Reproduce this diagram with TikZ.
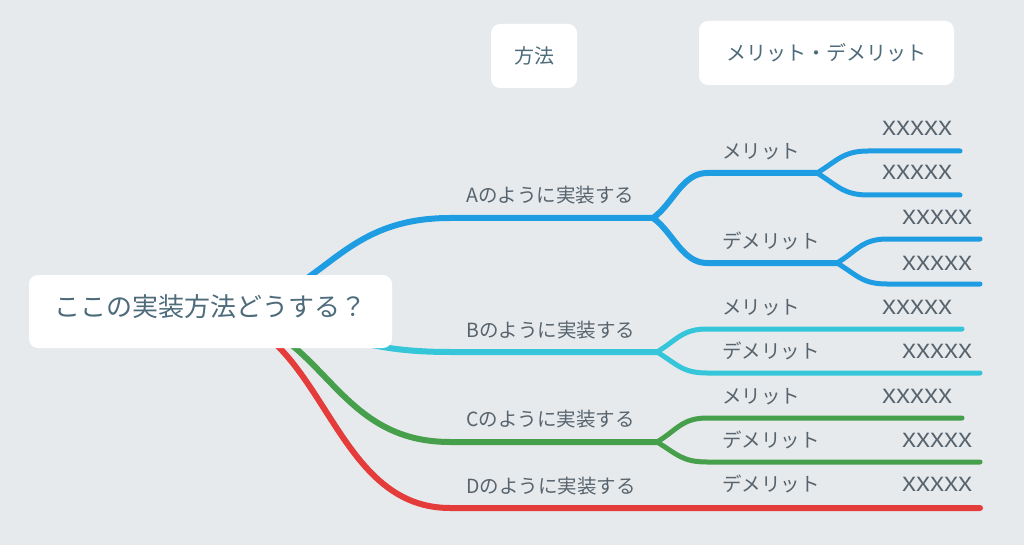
\documentclass[tikz,border=0pt]{standalone}
\usepackage{fontspec}
\setmainfont{Noto Sans CJK JP}
\newfontfamily\wideX[FakeStretch=1.26]{Noto Sans CJK JP}
\usetikzlibrary{positioning}

\definecolor{bgc}{HTML}{E7EAED}
\definecolor{blueA}{HTML}{1E9DE3}
\definecolor{cyanB}{HTML}{35C6DA}
\definecolor{greenC}{HTML}{46A04B}
\definecolor{redD}{HTML}{E43C3A}
\definecolor{txtc}{HTML}{57646D}
\definecolor{boxtxt}{HTML}{4D6B7B}

\begin{document}
\begin{tikzpicture}[x=1pt,y=-1pt,line cap=round,
                    branch/.style={line width=6pt},
                    twig/.style={line width=5pt},
                    card/.style={fill=white,rounded corners=9pt,text=boxtxt,
                                 font=\fontsize{20}{24}\selectfont},
                    lbl/.style={anchor=base west,text=txtc,inner sep=0pt,
                                font=\fontsize{19.5}{23}\selectfont},
                    xlbl/.style={lbl,font=\wideX\fontsize{19.5}{23}\selectfont}]

  \fill[bgc] (0,0) rectangle (1024,545);

  % hub and fork points
  \coordinate (hub) at (200,312);
  \coordinate (a)  at (653,218);
  \coordinate (b)  at (657,352);
  \coordinate (c)  at (657,442);
  \coordinate (am) at (817,173);
  \coordinate (ad) at (837,263);

  % ends
  \coordinate (am1) at (960,151);
  \coordinate (am2) at (960,195);
  \coordinate (ad1) at (980,239);
  \coordinate (ad2) at (980,284);
  \coordinate (bm)  at (962,329);
  \coordinate (bd)  at (980,373);
  \coordinate (cm)  at (962,418);
  \coordinate (cd)  at (980,462);
  \coordinate (dd)  at (980,508);

  % first level
  \draw[branch,blueA]  (hub) .. controls (325,312) and (325,218) .. (450,218) -- (a);
  \draw[branch,cyanB]  (hub) .. controls (325,312) and (325,352) .. (450,352) -- (b);
  \draw[branch,greenC] (hub) .. controls (325,312) and (325,442) .. (450,442) -- (c);
  \draw[branch,redD]   (hub) .. controls (325,312) and (325,508) .. (450,508) -- (dd);

  % second level
  \draw[branch,blueA] (a) .. controls +(20,-14) and +(-25,0) .. (707,173) -- (am);
  \draw[branch,blueA] (a) .. controls +(20,14) and +(-25,0) .. (707,263) -- (ad);
  \draw[twig,cyanB]   (b) .. controls +(20,-12) and +(-25,0) .. (707,329) -- (bm);
  \draw[twig,cyanB]   (b) .. controls +(20,12) and +(-25,0) .. (707,373) -- (bd);
  \draw[twig,greenC]  (c) .. controls +(20,-12) and +(-25,0) .. (707,418) -- (cm);
  \draw[twig,greenC]  (c) .. controls +(20,12) and +(-25,0) .. (707,462) -- (cd);

  % third level
  \draw[twig,blueA] (am) .. controls +(20,-12) and +(-25,0) .. (868,151) -- (am1);
  \draw[twig,blueA] (am) .. controls +(20,12) and +(-25,0) .. (868,195) -- (am2);
  \draw[twig,blueA] (ad) .. controls +(20,-12) and +(-25,0) .. (887,239) -- (ad1);
  \draw[twig,blueA] (ad) .. controls +(20,12) and +(-25,0) .. (887,284) -- (ad2);

  % cards
  \node[card,minimum width=363pt,minimum height=73pt,text depth=11pt,
        font=\fontsize{26}{30}\selectfont] (root) at (210.5,311.5) {ここの実装方法どうする？};
  \node[card,minimum width=86pt,minimum height=64pt] (howto) at (534,56) {方法};
  \node[card,minimum width=255pt,minimum height=64pt] (proscons) at (826.5,53) {メリット・デメリット};

  % labels
  \node[lbl] (la) at (466,203) {Aのように実装する};
  \node[lbl] (lb) at (466,337) {Bのように実装する};
  \node[lbl] (lc) at (466,426) {Cのように実装する};
  \node[lbl] (ld) at (466,493) {Dのように実装する};

  \node[lbl] (lam) at (722,159) {メリット};
  \node[lbl] (lad) at (722,248) {デメリット};
  \node[lbl] (lbm) at (722,314) {メリット};
  \node[lbl] (lbd) at (722,358) {デメリット};
  \node[lbl] (lcm) at (722,403) {メリット};
  \node[lbl] (lcd) at (722,447) {デメリット};
  \node[lbl] (ldd) at (722,491) {デメリット};

  \node[xlbl] (xam1) at (882,136) {XXXXX};
  \node[xlbl] (xam2) at (882,180) {XXXXX};
  \node[xlbl] (xad1) at (902,225) {XXXXX};
  \node[xlbl] (xad2) at (902,270) {XXXXX};
  \node[xlbl] (xbm)  at (882,314) {XXXXX};
  \node[xlbl] (xbd)  at (902,358) {XXXXX};
  \node[xlbl] (xcm)  at (882,403) {XXXXX};
  \node[xlbl] (xcd)  at (902,447) {XXXXX};
  \node[xlbl] (xdd)  at (902,491) {XXXXX};
\end{tikzpicture}
\end{document}
